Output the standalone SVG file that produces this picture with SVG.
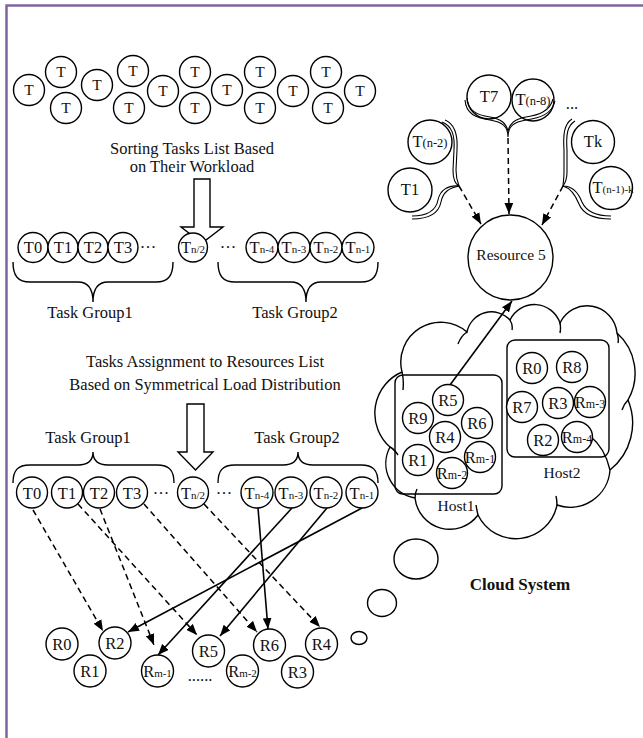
<svg xmlns="http://www.w3.org/2000/svg" width="643" height="738" viewBox="0 0 643 738">
<defs>
<style>
.c{fill:#fff;stroke:#000;stroke-width:1.4}
.o{fill:none;stroke:#000;stroke-width:1.4}
.o2{fill:none;stroke:#000;stroke-width:1.1}
.t{font-family:"Liberation Serif","Times New Roman",serif;font-size:15.5px;fill:#111;text-anchor:middle}
.tl{font-family:"Liberation Serif","Times New Roman",serif;font-size:16.5px;fill:#111;text-anchor:middle}
.s{font-size:11px}
.d{fill:none;stroke:#000;stroke-width:1.5;stroke-dasharray:6,4}
.l{fill:none;stroke:#000;stroke-width:1.6}
.b{font-family:"Liberation Serif","Times New Roman",serif;font-size:17px;font-weight:bold;fill:#111;text-anchor:middle}
</style>
<marker id="ah" viewBox="0 0 10 8" refX="10" refY="4" markerWidth="11" markerHeight="9" orient="auto" markerUnits="userSpaceOnUse"><path d="M0,0 L10,4 L0,8 z" fill="#000"/></marker>
</defs>
<rect width="643" height="738" fill="#fff"/>
<path d="M6.5,738 V5.5 H643" fill="none" stroke="#8064A2" stroke-width="2.5"/>

<g id="unsorted">
<g class="c"><circle cx="29" cy="90" r="15.5"/><circle cx="61" cy="72" r="15.5"/><circle cx="66" cy="108" r="15.5"/><circle cx="97" cy="85" r="15.5"/><circle cx="133" cy="71" r="15.5"/><circle cx="129" cy="108" r="15.5"/><circle cx="163" cy="91" r="15.5"/><circle cx="195" cy="72" r="15.5"/><circle cx="195" cy="108" r="15.5"/><circle cx="227" cy="90" r="15.5"/><circle cx="260" cy="72" r="15.5"/><circle cx="260" cy="108" r="15.5"/><circle cx="293" cy="91" r="15.5"/><circle cx="326" cy="72" r="15.5"/><circle cx="328" cy="108" r="15.5"/><circle cx="360" cy="91" r="15.5"/></g>
<g class="t"><text x="29" y="95">T</text><text x="61" y="77">T</text><text x="66" y="113">T</text><text x="97" y="90">T</text><text x="133" y="76">T</text><text x="129" y="113">T</text><text x="163" y="96">T</text><text x="195" y="77">T</text><text x="195" y="113">T</text><text x="227" y="95">T</text><text x="260" y="77">T</text><text x="260" y="113">T</text><text x="293" y="96">T</text><text x="326" y="77">T</text><text x="328" y="113">T</text><text x="360" y="96">T</text></g>
</g>

<g id="label-sort">
<text class="tl" x="192" y="154" font-size="17">Sorting Tasks List Based</text>
<text class="tl" x="192" y="172" font-size="17">on Their Workload</text>
<polygon class="c" points="194,179 210,179 210,227 223,227 202,243 181,227 194,227"/>
</g>

<g id="sorted-row">
<g class="c"><circle cx="33" cy="247.5" r="15"/><circle cx="63" cy="247.5" r="15"/><circle cx="93" cy="247.5" r="15"/><circle cx="123" cy="247.5" r="15"/><circle cx="193" cy="247.5" r="14.5"/><ellipse cx="262" cy="247.5" rx="16" ry="15"/><ellipse cx="294" cy="247.5" rx="16" ry="15"/><ellipse cx="326" cy="247.5" rx="16" ry="15"/><ellipse cx="358" cy="247.5" rx="16" ry="15"/></g>
<g class="tl"><text x="33" y="253">T0</text><text x="63" y="253">T1</text><text x="93" y="253">T2</text><text x="123" y="253">T3</text><text x="148" y="253">···</text><text x="193" y="253">T<tspan class="s">n/2</tspan></text><text x="228" y="253">···</text><text x="262" y="253">T<tspan class="s">n-4</tspan></text><text x="294" y="253">T<tspan class="s">n-3</tspan></text><text x="326" y="253">T<tspan class="s">n-2</tspan></text><text x="358" y="253">T<tspan class="s">n-1</tspan></text></g>
<path class="o" d="M13,262 C13,276 18,282 30,282 L78,282 C88,282 93,288 93,302 C93,288 98,282 108,282 L156,282 C168,282 173,276 173,262"/>
<path class="o" d="M218,262 C218,276 223,282 235,282 L291,282 C301,282 306,288 306,302 C306,288 311,282 321,282 L361,282 C373,282 378,276 378,262"/>
<text class="tl" x="90" y="318">Task Group1</text>
<text class="tl" x="295" y="318">Task Group2</text>
</g>

<g id="label-assign">
<text class="tl" x="205" y="367">Tasks Assignment to Resources List</text>
<text class="tl" x="205" y="390">Based on Symmetrical Load Distribution</text>
<polygon class="c" points="187,404 204,404 204,452 213,452 195.5,470 178,452 187,452"/>
</g>

<g id="assign-row">
<path class="o" d="M13,483 C13,470 18,465 30,465 L78,465 C88,465 93,460 93,452 C93,460 98,465 108,465 L157,465 C169,465 174,470 174,483"/>
<path class="o" d="M218,483 C218,470 223,465 235,465 L283,465 C293,465 298,460 298,452 C298,460 303,465 313,465 L361,465 C373,465 378,470 378,483"/>
<text class="tl" x="88" y="443">Task Group1</text>
<text class="tl" x="297" y="443">Task Group2</text>
<g class="c"><circle cx="32" cy="492.5" r="15.5"/><circle cx="67" cy="492.5" r="15.5"/><circle cx="99" cy="492.5" r="15.5"/><circle cx="132" cy="492.5" r="15.5"/><circle cx="193" cy="492.5" r="15.5"/><ellipse cx="257" cy="492.5" rx="16" ry="15.5"/><ellipse cx="291" cy="492.5" rx="16" ry="15.5"/><ellipse cx="326" cy="492.5" rx="16" ry="15.5"/><ellipse cx="362" cy="492.5" rx="16" ry="15.5"/></g>
<g class="tl" font-size="17"><text x="32" y="498.5">T0</text><text x="67" y="498.5">T1</text><text x="99" y="498.5">T2</text><text x="132" y="498.5">T3</text><text x="161" y="498.5">···</text><text x="193" y="498.5">T<tspan class="s">n/2</tspan></text><text x="224" y="498.5">···</text><text x="257" y="498.5">T<tspan class="s">n-4</tspan></text><text x="291" y="498.5">T<tspan class="s">n-3</tspan></text><text x="326" y="498.5">T<tspan class="s">n-2</tspan></text><text x="362" y="498.5">T<tspan class="s">n-1</tspan></text></g>
</g>

<g id="resources-row">
<g class="c"><circle cx="62" cy="644" r="16"/><circle cx="115" cy="643" r="16"/><circle cx="90" cy="671" r="16"/><circle cx="157.5" cy="671" r="16"/><circle cx="208.5" cy="651" r="16"/><circle cx="242.5" cy="671" r="16"/><circle cx="269.5" cy="645" r="16"/><circle cx="297.5" cy="672" r="16"/><circle cx="321.5" cy="644" r="16"/></g>
<g class="tl" font-size="17"><text x="62" y="650">R0</text><text x="115" y="649">R2</text><text x="90" y="677">R1</text><text x="157.5" y="677">R<tspan class="s">m-1</tspan></text><text x="208.5" y="657">R5</text><text x="242.5" y="677">R<tspan class="s">m-2</tspan></text><text x="269.5" y="651">R6</text><text x="297.5" y="678">R3</text><text x="321.5" y="650">R4</text><text x="200" y="681">......</text></g>
</g>

<g id="connectors">
<line class="d" x1="33" y1="510" x2="103" y2="631" marker-end="url(#ah)"/>
<line class="d" x1="78" y1="504" x2="197" y2="635" marker-end="url(#ah)"/>
<line class="d" x1="100" y1="509" x2="154" y2="645" marker-end="url(#ah)"/>
<line class="d" x1="144" y1="504" x2="257" y2="632" marker-end="url(#ah)"/>
<line class="d" x1="204" y1="504" x2="320" y2="627" marker-end="url(#ah)"/>
<line class="l" x1="258" y1="508" x2="268" y2="629" marker-end="url(#ah)"/>
<line class="l" x1="292" y1="508" x2="158" y2="655" marker-end="url(#ah)"/>
<line class="l" x1="327" y1="508" x2="220" y2="636" marker-end="url(#ah)"/>
<line class="l" x1="362" y1="508" x2="128" y2="632" marker-end="url(#ah)"/>
<line class="d" x1="459" y1="186" x2="481" y2="224" marker-end="url(#ah)"/>
<line class="d" x1="508" y1="138" x2="509" y2="214" marker-end="url(#ah)"/>
<line class="d" x1="563" y1="186" x2="542" y2="225" marker-end="url(#ah)"/>
<line class="l" x1="450" y1="385" x2="512" y2="301" marker-end="url(#ah)"/>
</g>

<g id="task-sets">
<g class="c"><circle cx="489" cy="97" r="22"/><circle cx="533" cy="100" r="21"/><circle cx="430" cy="142" r="22"/><circle cx="410" cy="190" r="22"/><circle cx="593" cy="142" r="21.5"/><circle cx="611" cy="188" r="21.5"/></g>
<g class="tl"><text x="489" y="102">T7</text><text x="533" y="105">T<tspan font-size="12.5">(n-8)</tspan></text><text x="430" y="147">T<tspan font-size="12.5">(n-2)</tspan></text><text x="410" y="195">T1</text><text x="593" y="147">Tk</text><text x="613" y="193">T<tspan font-size="11">(n-1)-k</tspan></text><text x="572" y="109">...</text></g>
<g class="o2">
<path d="M465,100 C466,114 476,118 490,120 C502,122 508,126 508,137 C508,126 514,122 526,120 C540,118 552,114 555,101"/>
<path d="M467,98 C468,111 477,115 490,117 C501,119 506,123 508,131 C510,123 515,119 526,117 C539,115 550,111 553,99"/>
<path d="M442,122 C452,126 455,135 454,150 L453,170 C453,180 455,184 459,186 C448,185 440,190 438,200 C436,210 428,216 412,216"/>
<path d="M445,120 C455,124 458,134 457,150 L456,170 C456,178 457,181 459,186 C449,188 443,192 441,202 C439,212 430,219 412,219"/>
<path d="M575,121 C567,126 566,135 567,150 L567,172 C567,179 566,182 563,186 C572,186 578,192 582,202 C586,211 596,216 611,216"/>
<path d="M572,119 C564,124 563,135 564,150 L564,172 C564,180 563,183 563,186 C570,188 575,194 579,204 C583,214 594,219 611,219"/>
</g>
</g>

<g id="resource5">
<circle class="c" cx="510.5" cy="257.5" r="42.5"/>
<text class="t" x="511" y="260">Resource 5</text>
</g>

<g id="cloud">
<path class="o" d="M390,447 A45,45 0 0 1 402,372 A40,40 0 0 1 467,332 A25,25 0 0 1 510,320 A27,27 0 0 1 560,323 A30,30 0 0 1 617,333 A54,54 0 0 1 628,400 A60,60 0 0 1 610,470 A40,40 0 0 1 557,505 A42,42 0 0 1 478,515 A35,35 0 0 1 415,498 A35,35 0 0 1 390,447 Z"/>
<path class="o" d="M402,372 q2,8 1,18 M467,332 q-6,4 -9,12 M510,320 q3,5 2,10 M560,323 q1,5 0,10 M617,333 q2,5 1,10 M628,400 q-4,4 -6,10 M610,470 Q605,448 590,436 M557,505 q0,-5 -1,-9 M478,515 q-1,-4 -2,-10 M415,498 q0,-5 2,-9 M390,447 q4,2 8,8"/>
</g>

<g id="host1">
<rect class="o" x="395" y="375" width="107" height="119" rx="8"/>
<g class="c"><circle cx="448" cy="400" r="15.5"/><circle cx="418" cy="418" r="15.5"/><circle cx="477" cy="423" r="15.5"/><circle cx="445" cy="437" r="15.5"/><circle cx="418" cy="460" r="15.5"/><circle cx="480" cy="457" r="15.5"/><circle cx="452" cy="473" r="15.5"/></g>
<g class="tl"><text x="448" y="405.5">R5</text><text x="418" y="423.5">R9</text><text x="477" y="428.5">R6</text><text x="445" y="442.5">R4</text><text x="418" y="465.5">R1</text><text x="480" y="462.5">R<tspan font-size="12">m-1</tspan></text><text x="452" y="478.5">R<tspan font-size="12">m-2</tspan></text></g>
<text class="t" x="456" y="511">Host1</text>
</g>

<g id="host2">
<rect class="o" x="507" y="340" width="102" height="117" rx="8"/>
<g class="c"><circle cx="532" cy="368" r="15.5"/><circle cx="572" cy="367" r="15.5"/><circle cx="522" cy="407" r="15.5"/><circle cx="558" cy="403" r="15.5"/><circle cx="590" cy="402" r="15.5"/><circle cx="543" cy="440" r="15.5"/><circle cx="577" cy="437" r="15.5"/></g>
<g class="tl"><text x="532" y="373.5">R0</text><text x="572" y="372.5">R8</text><text x="522" y="412.5">R7</text><text x="558" y="408.5">R3</text><text x="590" y="407.5">R<tspan font-size="12">m-3</tspan></text><text x="543" y="445.5">R2</text><text x="577" y="442.5">R<tspan font-size="12">m-4</tspan></text></g>
<text class="t" x="562" y="478">Host2</text>
</g>

<g id="bubbles">
<ellipse class="o" cx="416" cy="559" rx="22" ry="20"/>
<ellipse class="o" cx="382" cy="603" rx="14.5" ry="13.5"/>
<ellipse class="o" cx="359" cy="638" rx="8" ry="6.5"/>
<text class="b" x="520" y="590">Cloud System</text>
</g>
</svg>
